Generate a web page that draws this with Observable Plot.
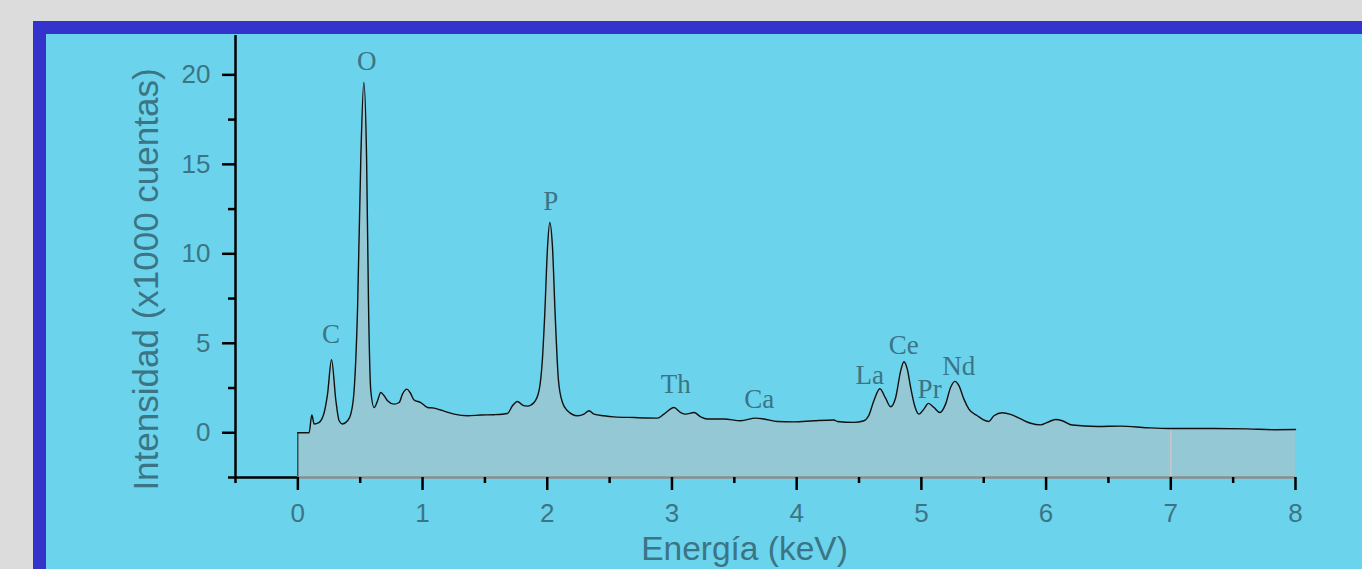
<!DOCTYPE html>
<html>
<head>
<meta charset="utf-8">
<script src="https://cdn.jsdelivr.net/npm/d3@7"></script>
<script src="https://cdn.jsdelivr.net/npm/@observablehq/plot@0.6"></script>
<style>
  html, body { margin: 0; padding: 0; width: 1362px; height: 569px; overflow: hidden; background: #dcdcdc; }
  #frame { position: absolute; left: 33px; top: 21px; width: 1500px; height: 700px;
           border-left: 13px solid #3434cc; border-top: 13px solid #3434cc; background: #6bd3ec; }
  #chart { position: absolute; left: 0; top: 0; }
</style>
</head>
<body>
<div id="frame"></div>
<div id="chart"></div>
<script>
// Energy (keV) and intensity (x1000 counts)
const energy = [0, 0.09, 0.112, 0.131, 0.171, 0.211, 0.238, 0.270, 0.305, 0.331, 0.358, 0.398, 0.425, 0.451, 0.479, 0.505, 0.529, 0.551, 0.567, 0.585, 0.612, 0.639, 0.665, 0.692, 0.719, 0.772, 0.812, 0.839, 0.874, 0.900, 0.932, 0.986, 1.040, 1.093, 1.146, 1.253, 1.360, 1.467, 1.574, 1.681, 1.721, 1.761, 1.801, 1.841, 1.894, 1.934, 1.962, 1.980, 2.002, 2.020, 2.042, 2.063, 2.090, 2.122, 2.162, 2.242, 2.295, 2.335, 2.375, 2.455, 2.535, 2.696, 2.883, 2.936, 3.016, 3.070, 3.110, 3.177, 3.230, 3.284, 3.417, 3.551, 3.671, 3.738, 3.845, 3.978, 4.139, 4.299, 4.326, 4.459, 4.539, 4.577, 4.619, 4.667, 4.713, 4.753, 4.794, 4.834, 4.860, 4.887, 4.914, 4.946, 4.980, 5.020, 5.056, 5.101, 5.149, 5.194, 5.234, 5.269, 5.301, 5.341, 5.381, 5.449, 5.515, 5.541, 5.582, 5.649, 5.715, 5.796, 5.876, 5.956, 6.010, 6.076, 6.130, 6.210, 6.410, 6.597, 6.811, 6.985, 7.345, 7.613, 7.826, 8.0];
const counts = [0, 0, 0.99, 0.49, 0.58, 1.13, 2.16, 4.08, 1.79, 0.67, 0.49, 0.67, 1.06, 2.35, 7.0, 15.38, 19.57, 15.38, 7.0, 2.35, 1.41, 1.79, 2.25, 2.07, 1.79, 1.60, 1.69, 2.16, 2.44, 2.25, 1.83, 1.69, 1.41, 1.38, 1.27, 1.04, 0.95, 0.99, 1.01, 1.08, 1.51, 1.75, 1.55, 1.49, 1.69, 2.35, 4.21, 6.65, 10.35, 11.75, 10.35, 6.65, 2.91, 1.69, 1.23, 0.95, 1.04, 1.23, 1.04, 0.95, 0.89, 0.85, 0.82, 1.04, 1.41, 1.13, 1.04, 1.13, 0.89, 0.77, 0.77, 0.67, 0.82, 0.77, 0.63, 0.61, 0.67, 0.71, 0.63, 0.58, 0.67, 0.95, 1.79, 2.46, 1.93, 1.45, 1.97, 3.46, 3.97, 3.56, 2.53, 1.51, 1.04, 1.32, 1.64, 1.41, 1.13, 1.60, 2.53, 2.87, 2.63, 1.88, 1.32, 0.95, 0.67, 0.63, 0.95, 1.12, 1.03, 0.77, 0.53, 0.44, 0.58, 0.74, 0.67, 0.43, 0.35, 0.37, 0.28, 0.24, 0.24, 0.22, 0.17, 0.18];

// Element labels
const elements = ["C", "O", "P", "Th", "Ca", "La", "Ce", "Pr", "Nd"];
const labelX = [0.265, 0.553, 2.028, 3.03, 3.70, 4.585, 4.858, 5.066, 5.299];
const labelY = [5.03, 20.28, 12.46, 2.23, 1.40, 2.74, 4.41, 1.96, 3.24];

// Axis ticks
const xMajor = [0, 1, 2, 3, 4, 5, 6, 7, 8];
const xMinor = [-0.5, 0.5, 1.5, 2.5, 3.5, 4.5, 5.5, 6.5, 7.5];
const yMajor = [0, 5, 10, 15, 20];
const yMinor = [-2.5, 2.5, 7.5, 12.5, 17.5];
const artifactX = [7];

const spectrum = energy.map((e, i) => ({x: e, y: counts[i]}));
const labels = elements.map((t, i) => ({t, x: labelX[i], y: labelY[i]}));
const yAt = (x) => { const i = d3.leastIndex(spectrum, d => Math.abs(d.x - x)); return spectrum[i].y; };

const yMin = -2.5, yMax = 22.2, xMin = -0.5, xMax = 8;
const textColor = "#3b7585";

const chart = Plot.plot({
  width: 1362,
  height: 569,
  marginLeft: 235,
  marginRight: 67,
  marginTop: 35,
  marginBottom: 92,
  x: {domain: [xMin, xMax]},
  y: {domain: [yMin, yMax]},
  style: {background: "none", fontFamily: "'Liberation Sans', Arial, sans-serif", overflow: "visible"},
  marks: [
    Plot.areaY(spectrum, {x: "x", y1: yMin, y2: "y", fill: "#95c8d5", curve: "monotone-x"}),
    Plot.ruleX(artifactX, {x: d => d, y1: yMin, y2: d => yAt(d), stroke: "#c8c8c8", strokeWidth: 1.5}),
    Plot.ruleX([0], {y1: yMin, y2: 0, stroke: "#111", strokeWidth: 1}),
    Plot.lineY(spectrum, {x: "x", y: "y", stroke: "#111", strokeWidth: 1.4, curve: "monotone-x"}),
    Plot.ruleY([yMin], {x1: xMin, x2: 0, stroke: "black", strokeWidth: 2.5}),
    Plot.ruleY([yMin], {x1: 0, x2: xMax, stroke: "#8c8c8c", strokeWidth: 2.5}),
    Plot.ruleX([xMin], {y1: yMin, y2: yMax, stroke: "black", strokeWidth: 2.5}),
    Plot.axisY(yMajor, {tickSize: 13, tickPadding: 12, fontSize: 26, stroke: "black", fill: textColor, strokeWidth: 2.5, label: null, tickFormat: d => String(d)}),
    Plot.axisY(yMinor, {tickSize: 7, text: null, stroke: "black", strokeWidth: 2.5, label: null}),
    Plot.axisX(xMajor, {tickSize: 13, tickPadding: 13, fontSize: 26, stroke: "black", fill: textColor, strokeWidth: 2.5, label: null, tickFormat: d => String(d)}),
    Plot.axisX(xMinor, {tickSize: 6, text: null, stroke: "black", strokeWidth: 2.5, label: null}),
    Plot.text(labels, {x: "x", y: "y", text: "t", lineAnchor: "bottom", textAnchor: "middle",
      fontFamily: "'Liberation Serif', 'Times New Roman', serif", fontSize: 27, fill: textColor}),
    Plot.text(["Energía (keV)"], {frameAnchor: "bottom", lineAnchor: "middle", textAnchor: "middle", dx: -21, dy: 72, fontSize: 33.5, fill: textColor}),
    Plot.text(["Intensidad (x1000 cuentas)"], {frameAnchor: "left", lineAnchor: "middle", textAnchor: "middle", rotate: -90, dx: -89, dy: 23, fontSize: 35, fill: textColor})
  ]
});
document.getElementById("chart").appendChild(chart);
</script>
</body>
</html>
